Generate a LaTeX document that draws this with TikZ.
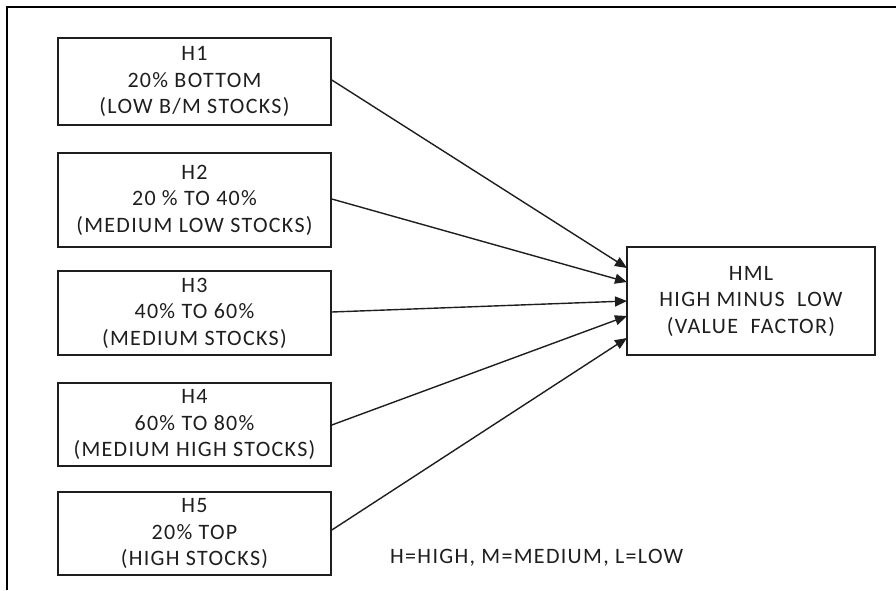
\documentclass[tikz,border=0pt]{standalone}
\usepackage{fontspec}
\setmainfont{Carlito}[LetterSpace=6]
\usetikzlibrary{arrows.meta}
\definecolor{ink}{HTML}{1E1E1E}
\tikzset{
  grp/.style={draw=ink, line width=1.6pt, minimum width=273pt, align=center,
    text=ink, font=\fontsize{22}{26.5}\selectfont, inner sep=0pt},
  feed/.style={draw=ink, line width=1.4pt, -{Triangle[length=12pt,width=10pt]}},
  frameline/.style={draw=black, line width=2.8pt}
}
\begin{document}
\begin{tikzpicture}[x=1pt, y=-1pt]
  \useasboundingbox (0,0) rectangle (896,590);
  % outer frame (top and left edges)
  \draw[frameline] (7,590) -- (7,7) -- (896,7);

  % portfolio groups
  \node[grp, minimum height=87pt] (h1) at (194.5,81.5) {H1\\20\% BOTTOM\\(LOW B/M STOCKS)};
  \node[grp, minimum height=94pt] (h2) at (194.5,200) {H2\\20 \% TO 40\%\\(MEDIUM LOW STOCKS)};
  \node[grp, minimum height=84pt] (h3) at (194.5,313) {H3\\40\% TO 60\%\\(MEDIUM STOCKS)};
  \node[grp, minimum height=83pt] (h4) at (194.5,424.5) {H4\\60\% TO 80\%\\(MEDIUM HIGH STOCKS)};
  \node[grp, minimum height=83pt] (h5) at (194.5,533.5) {H5\\20\% TOP\\(HIGH STOCKS)};

  % factor box
  \node[grp, minimum width=248pt, minimum height=108pt] (hml) at (751,301)
    {HML\\HIGH MINUS\ \ LOW\\(VALUE\ \ FACTOR)};

  % arrow end points on the factor box
  \coordinate (t1) at (627,268);
  \coordinate (t2) at (627,282);
  \coordinate (t3) at (627,301);
  \coordinate (t4) at (627,316);
  \coordinate (t5) at (627,338);

  \draw[feed] (h1.east |- 0,80) -- (t1);
  \draw[feed] (h2.east |- 0,199) -- (t2);
  \draw[feed] (h3.east |- 0,312) -- (t3);
  \draw[feed] (h4.east |- 0,425) -- (t4);
  \draw[feed] (h5.east |- 0,530) -- (t5);

  % legend
  \node[anchor=base west, inner sep=0pt, text=ink, font=\fontsize{22}{26}\selectfont] (key) at (390,563)
    {H=HIGH, M=MEDIUM, L=LOW};
\end{tikzpicture}
\end{document}
